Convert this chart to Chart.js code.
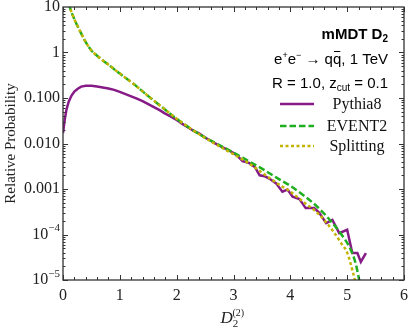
<!DOCTYPE html>
<html>
<head>
<meta charset="utf-8">
<script src="https://cdn.jsdelivr.net/npm/chart.js@4"></script>
<style>
  html, body { margin: 0; padding: 0; background: #fff; }
  #wrap { width: 409px; height: 327px; }
</style>
</head>
<body>
<div id="wrap"><canvas id="chart" width="409" height="327"></canvas></div>
<script>
// ---- data ----
const pythiaX = [0.00, 0.03, 0.06, 0.10, 0.15, 0.20, 0.26, 0.32, 0.40, 0.50, 0.60, 0.70, 0.80, 0.90, 1.00,
  1.10, 1.20, 1.30, 1.40, 1.50, 1.60, 1.70, 1.79, 1.90, 2.00, 2.10, 2.20, 2.30, 2.40, 2.50, 2.60, 2.70, 2.80,
  2.90, 3.00, 3.05, 3.16, 3.28, 3.38, 3.46, 3.55, 3.63, 3.75, 3.86, 3.95, 4.04, 4.16, 4.27, 4.42, 4.51, 4.63,
  4.74, 4.86, 5.00, 5.09, 5.18, 5.24, 5.33];
const pythiaY = [0.017, 0.033, 0.055, 0.083, 0.113, 0.138, 0.160, 0.178, 0.186, 0.185, 0.179, 0.171, 0.162, 0.151, 0.136,
  0.122, 0.109, 0.097, 0.085, 0.073, 0.063, 0.054, 0.046, 0.039, 0.033, 0.027, 0.0225, 0.019, 0.0165, 0.0135, 0.0115, 0.0097, 0.0083,
  0.0072, 0.0062, 0.0056, 0.0041, 0.0037, 0.0030, 0.0020, 0.0019, 0.0017, 0.00133, 0.00087, 0.00097, 0.00068, 0.00060, 0.00038, 0.00038, 0.00030, 0.000177,
  0.00021, 0.000107, 0.000127, 0.000039, 0.000039, 0.000025, 0.000039];

const event2X = [0.10, 0.15, 0.20, 0.30, 0.40, 0.50, 0.60, 0.70, 0.80, 0.90, 1.00, 1.25, 1.50, 1.75, 2.00, 2.25,
  2.50, 2.75, 3.00, 3.25, 3.50, 3.75, 4.00, 4.25, 4.50, 4.75, 4.90, 5.05, 5.15, 5.22];
const event2Y = [11.6, 7.7, 5.4, 2.95, 1.69, 1.11, 0.85, 0.67, 0.54, 0.43, 0.345, 0.20, 0.11, 0.062, 0.035, 0.021,
  0.0135, 0.0092, 0.0063, 0.0042, 0.0028, 0.0018, 0.00117, 0.0007, 0.00038, 0.000174, 0.0001, 0.00005, 0.000023, 0.0000089];

const splitX = [0.10, 0.15, 0.20, 0.30, 0.40, 0.50, 0.60, 0.70, 0.80, 0.90, 1.00, 1.25, 1.50, 1.75, 2.00, 2.25,
  2.50, 2.75, 3.00, 3.25, 3.50, 3.75, 4.00, 4.25, 4.50, 4.75, 4.90, 5.00, 5.10, 5.16];
const splitY = [11.6, 7.7, 5.4, 2.95, 1.69, 1.11, 0.85, 0.67, 0.54, 0.43, 0.345, 0.20, 0.11, 0.062, 0.035, 0.021,
  0.0133, 0.0087, 0.0058, 0.0038, 0.0023, 0.00138, 0.00087, 0.0005, 0.00028, 0.00012, 0.000063, 0.00004, 0.000015, 0.0000075];

const seriesNames = ["Pythia8", "EVENT2", "Splitting"];
const xTicks = [0, 1, 2, 3, 4, 5, 6];
const yTickValues = [1e-5, 1e-4, 1e-3, 1e-2, 1e-1, 1, 10];
const yTickLabels = ["10^-5", "10^-4", "0.001", "0.010", "0.100", "1", "10"];

const PURPLE = "#861a86";
const GREEN = "#1fae1f";
const OLIVE = "#c2b300";
const SERIF = "Liberation Serif";
const SANS = "Liberation Sans";

const toPts = (xs, ys) => xs.map((x, i) => ({ x: x, y: ys[i] }));

// draw a row of text pieces (for sub/superscripts)
function drawRuns(ctx, runs, x, y, align) {
  let total = 0;
  runs.forEach(r => { ctx.font = r.f; r.w = ctx.measureText(r.t).width; total += r.w; });
  let cx = align === "right" ? x - total : align === "center" ? x - total / 2 : x;
  runs.forEach(r => {
    ctx.font = r.f;
    ctx.fillText(r.t, cx, y + (r.dy || 0));
    if (r.bar) {
      ctx.save();
      ctx.lineWidth = 1;
      ctx.beginPath();
      ctx.moveTo(cx + 1, y - 12.5);
      ctx.lineTo(cx + r.w - 1, y - 12.5);
      ctx.stroke();
      ctx.restore();
    }
    cx += r.w;
  });
}

const framePlugin = {
  id: "frame",
  afterDraw(chart) {
    const { ctx, chartArea: a, scales: { x, y } } = chart;
    ctx.save();
    ctx.strokeStyle = "#333";
    ctx.lineWidth = 1;
    ctx.beginPath();
    // x ticks, major every 1, minor every 0.2
    for (let i = 0; i <= 30; i++) {
      const px = Math.round(x.getPixelForValue(i * 0.2)) + 0.5;
      const len = i % 5 === 0 ? 5 : 3;
      ctx.moveTo(px, a.bottom); ctx.lineTo(px, a.bottom - len);
      ctx.moveTo(px, a.top); ctx.lineTo(px, a.top + len);
    }
    // y ticks, decades and 2..9
    for (let e = -5; e <= 0; e++) {
      for (let m = 1; m <= 9; m++) {
        const v = m * Math.pow(10, e);
        const py = Math.round(y.getPixelForValue(v)) + 0.5;
        const len = m === 1 ? 5 : 2.5;
        ctx.moveTo(a.left, py); ctx.lineTo(a.left + len, py);
        ctx.moveTo(a.right, py); ctx.lineTo(a.right - len, py);
      }
    }
    ctx.stroke();
    ctx.lineWidth = 1.3;
    ctx.strokeRect(a.left, a.top, a.right - a.left, a.bottom - a.top);

    // y tick labels
    ctx.fillStyle = "#222";
    ctx.textBaseline = "middle";
    yTickValues.forEach((v, i) => {
      const py = y.getPixelForValue(v);
      const lab = yTickLabels[i];
      if (lab.indexOf("^") >= 0) {
        const parts = lab.split("^");
        drawRuns(ctx, [
          { t: parts[0], f: "16px " + SERIF },
          { t: parts[1].replace("-", "\u2212"), f: "11px " + SERIF, dy: -6 }
        ], a.left - 3, py, "right");
      } else {
        drawRuns(ctx, [{ t: lab, f: "16px " + SERIF }], a.left - 3, py, "right");
      }
    });

    // axis titles
    ctx.textBaseline = "alphabetic";
    const xc = (a.left + a.right) / 2;
    drawRuns(ctx, [
      { t: "D", f: "italic 17px " + SERIF },
      { t: "2", f: "11px " + SERIF, dy: 4 }
    ], xc - 13, 323, "left");
    drawRuns(ctx, [{ t: "(2)", f: "10px " + SERIF }], xc - 1, 316, "left");
    ctx.save();
    ctx.translate(11, (a.top + a.bottom) / 2);
    ctx.rotate(-Math.PI / 2);
    ctx.textAlign = "center";
    ctx.textBaseline = "middle";
    ctx.font = "15px " + SERIF;
    ctx.fillText("Relative Probability", 0, 0);
    ctx.restore();

    // annotation
    ctx.fillStyle = "#000";
    ctx.strokeStyle = "#000";
    drawRuns(ctx, [
      { t: "mMDT D", f: "bold 15px " + SANS },
      { t: "2", f: "bold 10px " + SANS, dy: 3 }
    ], 388, 39, "right");
    drawRuns(ctx, [
      { t: "e", f: "15px " + SANS },
      { t: "+", f: "9px " + SANS, dy: -6 },
      { t: "e", f: "15px " + SANS },
      { t: "\u2212", f: "9px " + SANS, dy: -6 },
      { t: " \u2192 q", f: "15px " + SANS },
      { t: "q", f: "15px " + SANS, bar: true },
      { t: ", 1 TeV", f: "15px " + SANS }
    ], 388, 64, "right");
    drawRuns(ctx, [
      { t: "R = 1.0, z", f: "15px " + SANS },
      { t: "cut", f: "10px " + SANS, dy: 3 },
      { t: " = 0.1", f: "15px " + SANS }
    ], 388, 88, "right");

    // legend
    const rows = [104, 126, 146];
    const sets = chart.data.datasets;
    ctx.textBaseline = "middle";
    ctx.textAlign = "center";
    ctx.font = "16px " + SERIF;
    sets.forEach((ds, i) => {
      ctx.save();
      ctx.strokeStyle = ds.borderColor;
      ctx.lineWidth = 2.5;
      ctx.setLineDash(ds.borderDash || []);
      ctx.beginPath();
      ctx.moveTo(280, rows[i]);
      ctx.lineTo(314, rows[i]);
      ctx.stroke();
      ctx.restore();
      ctx.fillStyle = "#111";
      ctx.fillText(ds.label, 357, rows[i] + 1);
    });
    ctx.restore();
  }
};

new Chart(document.getElementById("chart"), {
  type: "line",
  data: {
    datasets: [{
      label: seriesNames[0],
      data: toPts(pythiaX, pythiaY),
      borderColor: PURPLE,
      borderWidth: 2.5,
      tension: 0,
      pointRadius: 0,
      order: 3
    }, {
      label: seriesNames[1],
      data: toPts(event2X, event2Y),
      borderColor: GREEN,
      borderWidth: 2.5,
      borderDash: [6.5, 3],
      cubicInterpolationMode: "monotone",
      pointRadius: 0,
      order: 2
    }, {
      label: seriesNames[2],
      data: toPts(splitX, splitY),
      borderColor: OLIVE,
      borderWidth: 2.5,
      borderDash: [3, 2.5],
      cubicInterpolationMode: "monotone",
      pointRadius: 0,
      order: 1
    }]
  },
  options: {
    responsive: false,
    animation: false,
    clip: 0,
    layout: { padding: { top: 7, right: 5, left: 0, bottom: 0 } },
    plugins: { legend: { display: false }, tooltip: { enabled: false } },
    scales: {
      x: {
        type: "linear",
        min: 0,
        max: 6,
        afterFit: s => { s.height = 47; s.paddingLeft = 0; s.paddingRight = 0; },
        afterBuildTicks: s => { s.ticks = xTicks.map(v => ({ value: v })); },
        grid: { display: false, drawTicks: false },
        border: { display: false },
        ticks: { color: "#222", padding: 6, maxRotation: 0, font: { family: SERIF, size: 16 } }
      },
      y: {
        type: "logarithmic",
        min: 1e-5,
        max: 10,
        afterFit: s => { s.width = 63; s.paddingTop = 0; s.paddingBottom = 0; },
        afterBuildTicks: s => { s.ticks = yTickValues.map(v => ({ value: v })); },
        grid: { display: false, drawTicks: false },
        border: { display: false },
        ticks: { display: false }
      }
    }
  },
  plugins: [framePlugin]
});
</script>
</body>
</html>
